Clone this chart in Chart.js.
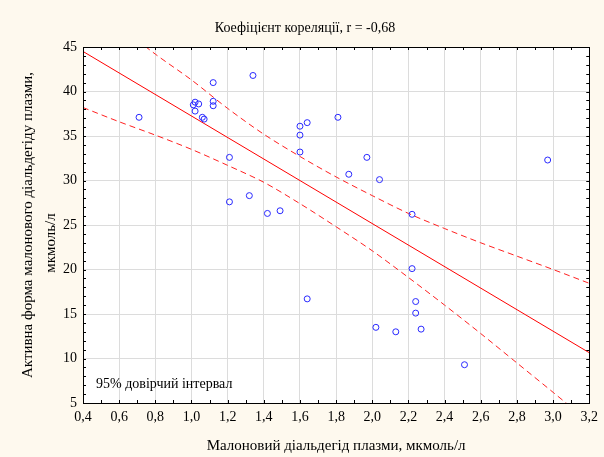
<!DOCTYPE html>
<html>
<head>
<meta charset="utf-8">
<script src="https://cdn.jsdelivr.net/npm/chart.js@4"></script>
<style>
  body { margin: 0; background: #fef9ee; }
</style>
</head>
<body>
<canvas id="grafico" width="604" height="457"></canvas>
<script>
// Дані
const mdaX = [0.71, 1.01, 1.02, 1.02, 1.04, 1.06, 1.07, 1.12, 1.12, 1.12, 1.21, 1.21, 1.32, 1.34, 1.42, 1.49,
  1.60, 1.64, 1.60, 1.60, 1.64, 1.81, 1.87, 1.97, 2.04, 2.02, 2.13, 2.22, 2.22, 2.24, 2.24, 2.27, 2.51, 2.97];
const activeY = [37.1, 38.5, 38.8, 37.8, 38.6, 37.1, 36.9, 41.0, 38.9, 38.4, 32.6, 27.6, 28.3, 41.8, 26.3, 26.6,
  36.1, 36.5, 35.1, 33.2, 16.7, 37.1, 30.7, 32.6, 30.1, 13.5, 13.0, 26.2, 20.1, 16.4, 15.1, 13.3, 9.3, 32.3];

// Лінія регресії та 95% довірчий інтервал
const fitX = [0.4, 3.2];
const fitY = [44.5, 10.65];
const bandX = [0.4, 0.6, 0.8, 1.0, 1.2, 1.4, 1.6, 1.8, 2.0, 2.2, 2.4, 2.6, 2.8, 3.0, 3.2];
const bandUpper = [50.8, 47.4, 44.2, 41.3, 38.1, 35.2, 32.7, 30.4, 28.3, 26.3, 24.6, 23.0, 21.5, 20.0, 18.45];
const bandLower = [38.2, 36.6, 35.1, 33.5, 31.7, 29.8, 27.4, 24.8, 22.1, 19.1, 16.0, 12.8, 9.5, 6.2, 2.85];

// Підписи осей
const xTickLabels = ["0,4", "0,6", "0,8", "1,0", "1,2", "1,4", "1,6", "1,8", "2,0", "2,2", "2,4", "2,6", "2,8", "3,0", "3,2"];
const yTickLabels = ["5", "10", "15", "20", "25", "30", "35", "40", "45"];

const pts = (xs, ys) => xs.map((x, i) => ({ x: x, y: ys[i] }));
const serif = "'Liberation Serif', 'Times New Roman', serif";

// Рамка, внутрішні засічки та тексти
const frame = {
  id: "frame",
  beforeDraw(chart) {
    const c = chart.ctx, a = chart.chartArea;
    c.save();
    c.fillStyle = "#fef9ee";
    c.fillRect(0, 0, chart.width, chart.height);
    c.fillStyle = "#ffffff";
    c.fillRect(a.left, a.top, a.right - a.left, a.bottom - a.top);
    c.restore();
  },
  afterDraw(chart) {
    const c = chart.ctx, a = chart.chartArea;
    const xs = chart.scales.x, ys = chart.scales.y;
    c.save();
    c.strokeStyle = "#000";
    c.lineWidth = 1;
    c.beginPath();
    for (let v = 0.4; v <= 3.2001; v += 0.1) {
      const px = Math.round(xs.getPixelForValue(v)) + 0.5;
      c.moveTo(px, a.bottom); c.lineTo(px, a.bottom - 3);
      c.moveTo(px, a.top); c.lineTo(px, a.top + 3);
    }
    for (let v = 5; v <= 45; v += 1) {
      const py = Math.round(ys.getPixelForValue(v)) + 0.5;
      c.moveTo(a.left, py); c.lineTo(a.left + 3, py);
      c.moveTo(a.right, py); c.lineTo(a.right - 3, py);
    }
    c.stroke();
    c.strokeRect(Math.round(a.left) + 0.5, Math.round(a.top) + 0.5,
      Math.round(a.right - a.left), Math.round(a.bottom - a.top));

    c.fillStyle = "#000";
    c.font = "14px " + serif;
    c.textAlign = "center";
    c.textBaseline = "middle";
    c.fillText("Коефіцієнт кореляції, r = -0,68", 305, 28);

    c.textAlign = "left";
    c.fillText("95% довірчий інтервал", a.left + 13, 384);

    c.font = "15px " + serif;
    c.textAlign = "center";
    c.fillText("Малоновий діальдегід плазми, мкмоль/л", (a.left + a.right) / 2, 446);

    c.translate(28, 225);
    c.rotate(-Math.PI / 2);
    c.fillText("Активна форма малонового діальдегіду плазми,", 0, 0);
    c.fillText("мкмоль/л", -18, 23);
    c.restore();
  }
};

new Chart(document.getElementById("grafico"), {
  type: "scatter",
  data: {
    datasets: [
      {
        data: pts(mdaX, activeY),
        pointStyle: "circle",
        pointRadius: 3,
        pointBorderWidth: 1,
        pointBorderColor: "#2a2aff",
        pointBackgroundColor: "rgba(0,0,0,0)",
        showLine: false
      },
      {
        type: "line",
        data: pts(fitX, fitY),
        borderColor: "#ff0000",
        borderWidth: 1,
        pointRadius: 0
      },
      {
        type: "line",
        data: pts(bandX, bandUpper),
        borderColor: "#ff2020",
        borderWidth: 1,
        borderDash: [6, 4],
        pointRadius: 0,
        tension: 0.3
      },
      {
        type: "line",
        data: pts(bandX, bandLower),
        borderColor: "#ff2020",
        borderWidth: 1,
        borderDash: [6, 4],
        pointRadius: 0,
        tension: 0.3
      }
    ]
  },
  options: {
    responsive: false,
    animation: false,
    layout: { padding: { top: 47, right: 5, left: 0, bottom: 0 } },
    plugins: { legend: { display: false }, tooltip: { enabled: false } },
    scales: {
      x: {
        type: "linear",
        min: 0.4,
        max: 3.2,
        afterFit: s => { s.height = 54; },
        grid: { color: "#dcdcdc", drawTicks: false },
        border: { display: false },
        ticks: {
          stepSize: 0.2,
          padding: 6,
          color: "#000",
          font: { family: serif, size: 14 },
          callback: (v, i) => xTickLabels[i]
        }
      },
      y: {
        type: "linear",
        min: 5,
        max: 45,
        afterFit: s => { s.width = 83; },
        grid: { color: "#dcdcdc", drawTicks: false },
        border: { display: false },
        ticks: {
          stepSize: 5,
          padding: 6,
          color: "#000",
          font: { family: serif, size: 14 },
          callback: (v, i) => yTickLabels[i]
        }
      }
    }
  },
  plugins: [frame]
});
</script>
</body>
</html>
